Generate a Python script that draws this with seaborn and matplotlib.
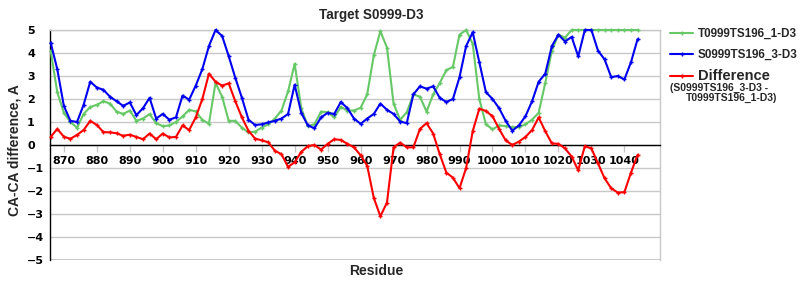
import matplotlib
matplotlib.use("Agg")
import matplotlib.pyplot as plt
import seaborn as sns
import pandas as pd

# ---------------- data ----------------
residues = list(range(866, 1046, 2))

t_model = [4.1, 2.3, 1.4, 1.0, 0.75, 1.35, 1.65, 1.75, 1.9, 1.8,
           1.45, 1.35, 1.5, 1.05, 1.15, 1.34, 0.95, 0.82, 0.85, 1.0,
           1.24, 1.53, 1.46, 1.09, 0.93, 2.7, 2.1, 1.05, 1.05, 0.75,
           0.55, 0.58, 0.76, 0.9, 1.15, 1.5, 2.33, 3.53, 1.6, 0.82,
           0.9, 1.45, 1.43, 1.2, 1.65, 1.5, 1.5, 1.62, 2.2, 3.9,
           4.95, 4.23, 1.8, 1.1, 1.42, 2.2, 2.1, 1.45, 2.2, 2.7,
           3.25, 3.4, 4.8, 5.0, 4.4, 2.0, 0.9, 0.68, 0.85, 0.82,
           0.77, 0.78, 0.9, 1.1, 1.4, 2.7, 4.1, 4.8, 4.67, 5.0,
           5.0, 5.0, 5.0, 5.0, 5.0, 5.0, 5.0, 5.0, 5.0, 5.0]

s_model = [4.45, 3.3, 1.7, 1.05, 1.0, 1.75, 2.75, 2.5, 2.4, 2.1,
           1.9, 1.7, 1.85, 1.3, 1.6, 2.05, 1.15, 1.35, 1.1, 1.2,
           2.15, 1.97, 2.58, 3.3, 4.3, 5.0, 4.74, 3.86, 2.92, 2.05,
           1.1, 0.87, 0.9, 0.98, 1.05, 1.15, 1.35, 2.62, 1.4, 0.85,
           0.73, 1.2, 1.4, 1.35, 1.87, 1.6, 1.15, 0.92, 1.15, 1.35,
           1.8, 1.53, 1.35, 1.02, 0.95, 2.2, 2.55, 2.45, 2.55, 2.05,
           1.87, 2.0, 2.95, 4.3, 4.9, 3.6, 2.3, 2.0, 1.6, 1.05,
           0.62, 0.85, 1.25, 1.9, 2.75, 3.1, 4.3, 4.8, 4.5, 4.7,
           3.85, 5.0, 5.0, 4.1, 3.72, 2.95, 3.0, 2.85, 3.6, 4.6]

difference = [0.35, 0.7, 0.36, 0.27, 0.44, 0.65, 1.05, 0.87, 0.56, 0.55,
              0.51, 0.4, 0.45, 0.35, 0.25, 0.5, 0.25, 0.5, 0.33, 0.35,
              0.85, 0.65, 1.2, 2.0, 3.1, 2.75, 2.58, 2.68, 1.9, 1.2,
              0.62, 0.28, 0.2, 0.12, -0.25, -0.4, -0.95, -0.75, -0.3, -0.05,
              0.0, -0.2, 0.05, 0.25, 0.22, 0.05, -0.1, -0.45, -0.9, -2.3,
              -3.1, -2.5, -0.1, 0.1, -0.1, -0.1, 0.7, 0.95, 0.5, -0.4,
              -1.2, -1.42, -1.88, -1.0, 0.6, 1.58, 1.48, 1.25, 0.7, 0.2,
              0.0, 0.15, 0.35, 0.65, 1.2, 0.6, 0.07, 0.05, -0.15, -0.5,
              -1.1, -0.05, -0.15, -0.8, -1.45, -1.88, -2.07, -2.05, -1.2, -0.43]

series_names = ["T0999TS196_1-D3", "S0999TS196_3-D3", "Difference"]
series_colors = ["#66c866", "#0000f0", "#ff0000"]
x_ticks = list(range(870, 1041, 10))
y_ticks = list(range(-5, 6))
title = "Target S0999-D3"
x_label = "Residue"
y_label = "CA-CA difference, A"
diff_note_1 = "(S0999TS196_3-D3 -"
diff_note_2 = "T0999TS196_1-D3)"

# ---------------- plot ----------------
sns.set_theme(style="white")
plt.rcParams['font.family'] = ['DejaVu Sans']

fig = plt.figure(figsize=(8, 3), dpi=100)
ax = fig.add_axes([50 / 800, 40 / 300, 610 / 800, 230 / 300])

for name, vals, col in zip(series_names, [t_model, s_model, difference], series_colors):
    sns.lineplot(x=residues, y=vals, ax=ax, color=col, linewidth=1.5,
                 marker='+', markersize=3.5, markeredgewidth=1.0,
                 markeredgecolor=col, label=name, clip_on=False, zorder=3)

ax.set_xlim(865.8, 1050.8)
ax.set_ylim(-5, 5)
ax.set_yticks(y_ticks)
ax.set_xticks(x_ticks)
ax.set_yticklabels([("\u2212%d" % -v) if v < 0 else "%d" % v for v in y_ticks])
ax.set_xticklabels([str(v) for v in x_ticks])

ax.grid(axis='y', color='#c8c8c8', linewidth=1)
ax.grid(axis='x', visible=False)
ax.axhline(-5, color='#c8c8c8', lw=1.5, zorder=1)

for s in ['top', 'right']:
    ax.spines[s].set_color('#c8c8c8')
    ax.spines[s].set_linewidth(1)
ax.spines['left'].set_color('black')
ax.spines['left'].set_linewidth(1)
ax.spines['bottom'].set_position(('data', 0))
ax.spines['bottom'].set_color('black')
ax.spines['bottom'].set_linewidth(1)
ax.spines['bottom'].set_zorder(2.6)

ax.tick_params(axis='x', length=5, width=1, color='#c8c8c8', direction='out',
               pad=3, labelsize=8, labelcolor='black', bottom=True)
ax.tick_params(axis='y', length=0, pad=16.5, labelsize=8, labelcolor='black', left=True)
for lbl in ax.get_xticklabels():
    lbl.set_fontweight('bold')
for lbl in ax.get_yticklabels():
    lbl.set_fontweight('bold')
    lbl.set_horizontalalignment('left')

font_lbl = dict(family=['Liberation Sans', 'DejaVu Sans'], weight='bold', size=10)
ax.set_xlabel(x_label, **font_lbl)
ax.set_ylabel(y_label, **font_lbl)
ax.xaxis.set_label_coords((376 - 50) / 610, (260 - 264) / 230)
ax.yaxis.set_label_coords((22 - 50) / 610, (260 - 150) / 230)
ax.set_title(title, x=(371 - 50) / 610, y=(260 - 19.5) / 230, pad=0,
             family=['Liberation Sans', 'DejaVu Sans'], weight='bold', size=9.75)

handles, labels = ax.get_legend_handles_labels()
leg = ax.legend(handles, labels, loc='upper left',
                bbox_to_anchor=(670 / 800, 1 - 28 / 300), bbox_transform=fig.transFigure,
                frameon=False, borderaxespad=0, borderpad=0, handlelength=2.0,
                handletextpad=0.4, labelspacing=0.75,
                prop={'family': ['Liberation Sans'], 'weight': 'bold', 'size': 8.4})
leg.get_texts()[2].set_fontsize(10.5)

fig.text(670 / 800, 1 - 88 / 300, diff_note_1, ha='left', va='center',
         family=['Liberation Sans'], weight='bold', size=7.5)
fig.text(686 / 800, 1 - 98 / 300, diff_note_2, ha='left', va='center',
         family=['Liberation Sans'], weight='bold', size=7.5)

fig.savefig("out.png", dpi=100, facecolor='white')
